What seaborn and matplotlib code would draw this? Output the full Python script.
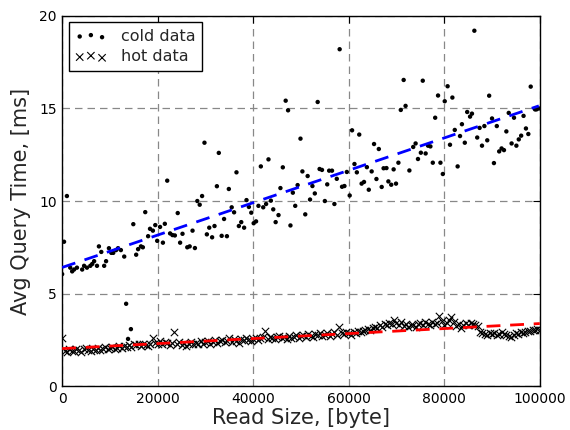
import numpy as np
import pandas as pd
import matplotlib
matplotlib.use("Agg")
import matplotlib.pyplot as plt
import seaborn as sns

# cold data (read size in thousands of bytes, avg query time ms)
cold_xk = [0.4, 1.0, 0.0, 1.7, 2.1, 2.5, 3.1, 4.2, 4.6, 5.2, 5.9, 6.3, 6.7, 7.3, 7.7, 8.2, 8.8, 9.2, 9.8, 10.3,
           10.7, 11.3, 11.7, 12.3, 13.0, 13.4, 13.8, 14.4, 14.9, 15.5, 15.9, 16.5, 16.9, 17.4, 18.0, 18.4, 19.0, 19.5, 19.9,
           22.0, 29.8, 32.8, 36.5, 32.4, 34.9, 29.3, 28.3, 28.8, 38.6, 20.5, 21.5, 24.2, 21.1, 22.6, 23.1, 23.6, 24.7,
           25.2, 26.2, 26.7, 27.3, 27.8, 30.3, 30.8, 31.4, 31.9, 33.4, 33.9, 34.5, 35.5, 36.0, 37.0, 37.5, 38.1, 39.1, 39.6, 40.1,
           46.8, 47.3, 53.5, 49.9, 41.6, 43.2, 46.2, 50.3, 51.4, 53.9, 54.4, 55.9, 56.5, 57.5, 59.6, 45.7, 49.3, 48.3,
           52.4, 55.5, 58.6, 59.1, 52.9, 43.7, 42.7, 41.1, 42.1, 51.9, 55.0, 57.0, 60.2, 44.2, 45.3, 48.8, 50.9, 40.6, 44.7, 47.8,
           58.1,
           71.5, 75.5, 78.7, 70.9, 71.9, 78.1, 60.7, 62.2, 65.3, 66.3, 74.0, 73.5, 75.1, 76.1, 76.6, 77.1, 74.5, 77.6, 79.2,
           79.7, 61.2, 61.7, 63.8, 64.8, 67.3, 67.9, 69.4, 70.4, 72.7, 62.7, 63.2, 64.2, 65.8, 66.9, 68.3, 68.9, 69.9,
           86.3, 80.7, 81.7, 80.1, 89.4, 98.1, 84.8, 85.8, 85.4, 90.0, 93.5, 94.6, 96.6, 99.0, 99.3, 83.7, 82.2, 83.3,
           81.2, 84.3, 87.4, 88.4, 91.0, 86.9, 89.0, 87.9, 93.0, 97.1, 97.6, 96.1, 95.6, 94.1, 95.1, 90.4, 91.5, 92.0, 92.5, 82.8,
           99.8]
cold_y = [7.8, 10.27, 6.05, 6.4, 6.2, 6.3, 6.4, 6.3, 6.5, 6.4, 6.5, 6.6, 6.75, 6.5, 7.55, 7.25, 6.5, 6.75, 7.45, 7.2,
          7.2, 7.35, 7.45, 7.35, 7.0, 4.45, 2.55, 3.08, 8.75, 7.1, 7.4, 7.55, 7.5, 9.4, 8.1, 8.5, 8.4, 8.7, 7.85,
          11.1, 13.15, 12.6, 11.55, 10.8, 10.65, 10.27, 10.0, 9.8, 10.05, 8.6, 8.77, 9.35, 7.75, 8.25, 8.16, 8.14, 7.75,
          8.23, 7.5, 7.55, 8.4, 7.46, 8.2, 8.56, 8.04, 8.65, 8.12, 9.03, 8.1, 9.66, 9.39, 8.65, 8.86, 8.56, 9.68, 9.37, 8.8,
          15.42, 14.9, 15.35, 13.37, 11.87, 12.25, 11.82, 11.6, 11.35, 11.73, 11.68, 11.64, 11.64, 11.2, 11.57, 10.7, 10.86, 10.45,
          10.81, 10.9, 10.77, 10.81, 10.41, 10.02, 9.84, 9.74, 9.66, 10.08, 10.0, 9.84, 10.3, 9.55, 9.24, 9.74, 9.28, 8.9, 8.86, 8.68,
          18.2,
          16.54, 16.5, 15.7, 14.92, 15.14, 14.5, 13.82, 13.59, 13.08, 12.81, 13.11, 12.92, 12.61, 12.57, 12.99, 12.95, 12.27, 12.07, 12.07,
          11.46, 12.0, 11.55, 11.83, 11.6, 11.77, 11.78, 11.71, 12.07, 11.65, 10.94, 11.03, 10.61, 11.19, 10.76, 11.06, 10.88, 10.94,
          19.2, 16.2, 15.59, 15.39, 15.69, 16.18, 14.81, 14.72, 14.56, 14.46, 14.76, 14.5, 14.6, 14.95, 14.95, 14.15, 13.84, 13.51,
          13.04, 13.15, 13.95, 14.05, 14.05, 13.43, 13.28, 12.99, 13.76, 13.92, 13.62, 13.53, 13.33, 13.11, 12.99, 12.05, 12.68, 12.84, 12.75, 11.87,
          15.0]

# hot data: one sample every 500 bytes from 0 to 100000
hot_y = [2.58, 1.90, 1.85, 2.00, 1.92, 1.88, 2.02, 1.95, 1.87, 1.98,
         2.05, 1.93, 1.90, 2.03, 1.97, 2.08, 1.95, 2.00, 2.10, 2.02,
         2.06, 2.12, 2.00, 2.08, 2.15, 2.05, 2.18, 2.10, 2.22, 2.14,
         2.25, 2.20, 2.28, 2.18, 2.30, 2.22, 2.15, 2.26, 2.60, 2.35,
         2.30, 2.42, 2.25, 2.38, 2.32, 2.20, 2.35, 2.90, 2.28, 2.40,
         2.22, 2.33, 2.18, 2.30, 2.38, 2.25, 2.35, 2.28, 2.42, 2.30,
         2.36, 2.45, 2.30, 2.40, 2.48, 2.35, 2.42, 2.50, 2.38, 2.46,
         2.58, 2.40, 2.52, 2.45, 2.35, 2.55, 2.48, 2.60, 2.50, 2.42,
         2.55, 2.62, 2.48, 2.58, 2.65, 3.00, 2.55, 2.68, 2.60, 2.52,
         2.63, 2.70, 2.58, 2.66, 2.55, 2.72, 2.62, 2.68, 2.75, 2.60,
         2.70, 2.78, 2.65, 2.82, 2.72, 2.68, 2.80, 2.74, 2.85, 2.70,
         2.78, 2.88, 2.72, 2.82, 2.90, 2.75, 3.17, 2.85, 2.80, 2.92,
         2.88, 2.78, 2.95, 2.85, 3.00, 2.90, 2.98, 3.05, 3.10, 3.02,
         3.15, 3.20, 3.12, 3.28, 3.22, 3.35, 3.30, 3.42, 3.38, 3.57,
         3.40, 3.30, 3.45, 3.25, 3.35, 3.20, 3.30, 3.28, 3.22, 3.35,
         3.40, 3.30, 3.45, 3.38, 3.32, 3.48, 3.35, 3.42, 3.78, 3.50,
         3.30, 3.40, 3.55, 3.75, 3.45, 3.25, 3.38, 3.12, 3.30, 3.42,
         3.28, 3.40, 3.35, 3.30, 3.25, 2.95, 2.85, 2.80, 2.78, 2.85,
         2.80, 2.88, 2.78, 2.83, 2.90, 2.82, 2.75, 2.70, 2.68, 2.78,
         2.85, 2.80, 2.92, 2.88, 2.95, 3.00, 2.98, 3.05, 3.02, 3.08,
         3.05]
hot_step = 500

x_ticks = [0, 20000, 40000, 60000, 80000, 100000]
y_ticks = [0, 5, 10, 15, 20]

cold = pd.DataFrame({"x": np.array(cold_xk) * 1000, "y": cold_y})
hot = pd.DataFrame({"x": np.arange(len(hot_y)) * hot_step, "y": hot_y})

sns.set_style("white")
plt.rcParams["font.family"] = ["DejaVu Sans"]

fig = plt.figure(figsize=(5.7, 4.3), dpi=100)
ax = fig.add_axes([0.109, 0.102, 0.838, 0.861])

sns.scatterplot(data=cold, x="x", y="y", ax=ax, color="black", marker="o", s=10,
                edgecolor="none", label="cold data", zorder=3)
sns.scatterplot(data=hot, x="x", y="y", ax=ax, color="black", marker="x", s=28,
                linewidth=0.8, label="hot data", zorder=3)
sns.regplot(data=cold, x="x", y="y", ax=ax, scatter=False, ci=None, truncate=True,
            line_kws=dict(color="blue", linestyle=(0, (5, 3.5)), linewidth=2, zorder=4))
sns.regplot(data=hot, x="x", y="y", ax=ax, scatter=False, ci=None, truncate=True,
            line_kws=dict(color="red", linestyle=(0, (5, 3.5)), linewidth=2, zorder=4))

ax.set_xlim(0, 100000)
ax.set_ylim(0, 20)
ax.set_xticks(x_ticks)
ax.set_yticks(y_ticks)
ax.set_xticklabels([str(t) for t in x_ticks])
ax.set_yticklabels([str(t) for t in y_ticks])
ax.grid(True, color="#888888", linestyle=(0, (6, 4)), linewidth=0.9)
ax.set_axisbelow(True)
for sp in ax.spines.values():
    sp.set_visible(True)
    sp.set_color("black")
    sp.set_linewidth(1.0)
ax.tick_params(direction="in", top=True, right=True, length=5, width=0.8,
               labelsize=10, pad=4, colors="black")
ax.set_xlabel("Read Size, [byte]", fontsize=15, labelpad=2)
ax.set_ylabel("Avg Query Time, [ms]", fontsize=15, labelpad=6)

handles, labels = ax.get_legend_handles_labels()
leg = ax.legend(handles[:2], labels[:2], loc="upper left", scatterpoints=3,
                fontsize=11.5, frameon=True, fancybox=False, framealpha=1,
                edgecolor="black", borderpad=0.4, handletextpad=0.9,
                handlelength=2.0, labelspacing=0.35, borderaxespad=0.4)
leg.get_frame().set_linewidth(1.0)

fig.savefig("out.png", dpi=100, facecolor="white")
